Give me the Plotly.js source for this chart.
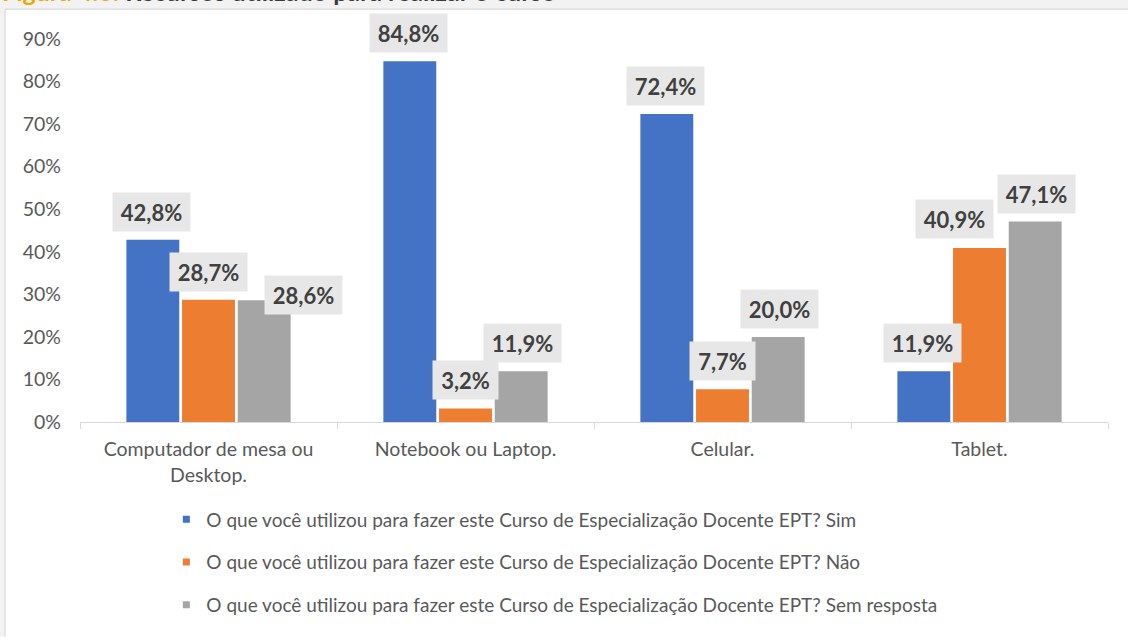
<!DOCTYPE html>
<html>
<head>
<meta charset="utf-8">
<script src="https://cdn.plot.ly/plotly-3.0.1.min.js"></script>
<style>html,body{margin:0;padding:0;background:#fff;}#chart{width:1128px;height:637px;}</style>
</head>
<body>
<div id="chart"></div>
<script>
const categories = ['Computador de mesa ou Desktop.', 'Notebook ou Laptop.', 'Celular.', 'Tablet.'];
const tickLabels = ['Computador de mesa ou<br>Desktop.', 'Notebook ou Laptop.', 'Celular.', 'Tablet.'];
const seriesNames = [
  'O que você utilizou para fazer este Curso de Especialização Docente EPT? Sim',
  'O que você utilizou para fazer este Curso de Especialização Docente EPT? Não',
  'O que você utilizou para fazer este Curso de Especialização Docente EPT? Sem resposta'
];
const simValues = [42.8, 84.8, 72.4, 11.9];
const naoValues = [28.7, 3.2, 7.7, 40.9];
const semValues = [28.6, 11.9, 20.0, 47.1];
const titleText = 'Recursos utilizado para realizar o curso';
const titlePrefix = 'Figura 4.6:';

const series = [simValues, naoValues, semValues];
const colors = ['#4472c4', '#ed7d31', '#a5a5a5'];
const FONT = 'Lato, "Open Sans", sans-serif';

const traces = [];
series.forEach((vals, i) => {
  traces.push({
    type: 'bar', x: categories, y: vals, name: seriesNames[i],
    marker: {color: colors[i]}, showlegend: false, hoverinfo: 'skip'
  });
});
series.forEach((vals, i) => {
  traces.push({
    type: 'scatter', mode: 'markers', x: [categories[0]], y: [null],
    name: seriesNames[i], legendgroup: 'g' + i,
    marker: {symbol: 'square', size: 7, color: colors[i]}, showlegend: true
  });
});

// label placement tweaks (Excel moved some labels to avoid collisions)
const labelAdjust = {'2-0': {dx: 38, dy: 5}, '1-3': {dx: -25, dy: 29}};
const annotations = [];
series.forEach((vals, i) => {
  vals.forEach((v, j) => {
    const txt = v.toFixed(1).replace('.', ',') + '%';
    const adj = labelAdjust[i + '-' + j] || {dx: 0, dy: 28};
    annotations.push({
      x: categories[j], y: v, xref: 'x', yref: 'y',
      text: '<b>' + txt + '</b>', showarrow: false,
      xanchor: 'center', yanchor: 'middle',
      xshift: (i - 1) * 57 + adj.dx, yshift: adj.dy,
      bgcolor: '#e7e7e7', width: txt.length >= 5 ? 75 : 63, height: 36,
      font: {family: FONT, size: 22, color: '#404040'}
    });
  });
});
// cut-off figure caption at the very top (clipped in the original too)
annotations.push({
  xref: 'paper', yref: 'paper', x: -0.0778, y: 1.0805,
  xanchor: 'left', yanchor: 'bottom', showarrow: false,
  text: '<b><span style="color:#f5a500">' + titlePrefix + '</span> ' + titleText + '</b>',
  font: {family: FONT, size: 25, color: '#3a3a3a'}
});

const layout = {
  width: 1128, height: 637,
  margin: {l: 80, r: 20, t: 39, b: 213},
  paper_bgcolor: '#ffffff', plot_bgcolor: '#ffffff',
  barmode: 'group', bargap: 0.35, bargroupgap: 0.05,
  font: {family: FONT, size: 19, color: '#595959'},
  xaxis: {
    type: 'category', tickvals: categories, ticktext: tickLabels,
    showline: true, linecolor: '#d9d9d9', linewidth: 1,
    ticks: 'outside', tickson: 'boundaries', ticklen: 6, tickcolor: '#d9d9d9',
    ticklabelstandoff: 10, automargin: false,
    showgrid: false, tickfont: {family: FONT, size: 19.5, color: '#595959'},
    fixedrange: true
  },
  yaxis: {
    range: [0, 90], dtick: 10, ticksuffix: '%', showgrid: false, zeroline: false,
    showline: false, ticks: '', ticklabelstandoff: 18, automargin: false,
    tickfont: {family: FONT, size: 19.5, color: '#595959'}, fixedrange: true
  },
  legend: {
    orientation: 'v', x: 0.084, xanchor: 'left', y: -0.205, yanchor: 'top',
    font: {family: FONT, size: 19, color: '#595959'},
    tracegroupgap: 15, traceorder: 'grouped', bgcolor: 'rgba(0,0,0,0)'
  },
  shapes: [
    {type: 'rect', xref: 'paper', yref: 'paper', x0: -0.09, x1: 1.03, y0: 1.0779, y1: 1.11,
     fillcolor: '#f2f2f2', line: {width: 0}, layer: 'below'},
    {type: 'rect', xref: 'paper', yref: 'paper', x0: -0.09, x1: -0.0729, y0: -0.56, y1: 1.11,
     fillcolor: '#f2f2f2', line: {width: 0}, layer: 'below'},
    {type: 'line', xref: 'paper', yref: 'paper', x0: -0.0729, x1: 1.03, y0: 1.0779, y1: 1.0779,
     line: {color: '#d4d4d4', width: 1}},
    {type: 'line', xref: 'paper', yref: 'paper', x0: -0.0729, x1: -0.0729, y0: -0.56, y1: 1.0779,
     line: {color: '#d4d4d4', width: 1}}
  ],
  annotations: annotations,
  showlegend: true
};

Plotly.newPlot('chart', traces, layout, {displayModeBar: false, staticPlot: true});
</script>
</body>
</html>
